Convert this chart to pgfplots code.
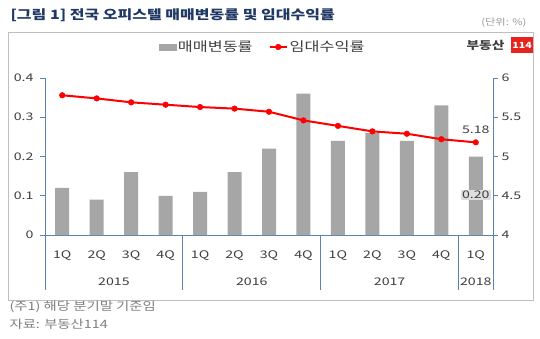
\documentclass[border=0pt]{standalone}
\usepackage{pgfplots}
\pgfplotsset{compat=1.18}
\usepackage{fontspec}
\setmainfont[FakeStretch=1.25]{Noto Sans CJK KR}
\newfontfamily\numfont[FakeStretch=1.35]{Noto Sans CJK KR}
\definecolor{axcol}{RGB}{91,130,180}
\definecolor{barcol}{RGB}{166,166,166}
\definecolor{txt}{RGB}{64,64,64}
\definecolor{titlecol}{RGB}{31,56,100}
\definecolor{framecol}{RGB}{191,191,191}
\definecolor{notecol}{RGB}{128,128,128}
\definecolor{logored}{RGB}{230,36,30}
\definecolor{lblfill}{RGB}{222,222,222}
\begin{document}
\begin{tikzpicture}
\useasboundingbox (0pt,0pt) rectangle (540pt,338pt);
\fill[white] (0pt,0pt) rectangle (540pt,338pt);
\draw[framecol, line width=1pt] (8pt,305pt) rectangle (533pt,38pt);
\node[anchor=west, text=titlecol, font=\bfseries\fontsize{12.8}{15}\selectfont] at (7pt,323pt) {[그림 1] 전국 오피스텔 매매변동률 및 임대수익률};
\node[anchor=east, text=notecol!80, font=\fontsize{9}{11}\selectfont] at (530pt,315pt) {(단위: \%)};
\node[anchor=west, text=notecol, font=\fontsize{11.5}{13}\selectfont] at (6pt,31pt) {(주1) 해당 분기말 기준임};
\node[anchor=west, text=notecol, font=\fontsize{11.5}{13}\selectfont] at (6pt,14pt) {자료: 부동산114};
\node[anchor=east, text=txt, font=\bfseries\fontsize{11}{12}\selectfont] at (508pt,293pt) {부동산};
\node[anchor=west, fill=logored, text=white, font=\bfseries\fontsize{8.5}{10}\selectfont, inner sep=1.2pt, minimum height=16pt] at (511pt,293pt) {114};

\begin{axis}[
  at={(45pt,103pt)}, anchor=south west, scale only axis,
  width=448pt, height=157pt,
  xmin=-0.5, xmax=12.5, ymin=0, ymax=0.4,
  axis x line*=bottom, axis y line*=left,
  axis line style={axcol, line width=0.8pt},
  ytick={0,0.1,0.2,0.3,0.4}, yticklabels={0,0.1,0.2,0.3,0.4},
  xtick={0,...,12}, xticklabels={1Q,2Q,3Q,4Q,1Q,2Q,3Q,4Q,1Q,2Q,3Q,4Q,1Q},
  x tick style={draw=none}, y tick style={axcol, line width=0.8pt},
  tick align=outside, major tick length=5pt,
  ticklabel style={font=\numfont\fontsize{10.5}{12}\selectfont, text=txt},
  yticklabel style={xshift=-3pt},
  /pgf/number format/assume math mode=true,
  xticklabel style={anchor=center, yshift=-16pt},
  clip=false,
  legend style={at={(0.4855,1)}, anchor=center, yshift=31pt, draw=none, fill=none,
    font=\fontsize{13}{15}\selectfont, text=txt, legend columns=2,
    /tikz/every even column/.append style={column sep=14pt}},
]
\addplot[ybar, bar width=14pt, fill=barcol, draw=none, forget plot] coordinates {
(0,0.12) (1,0.09) (2,0.16) (3,0.10) (4,0.11) (5,0.16) (6,0.22) (7,0.36)
(8,0.24) (9,0.26) (10,0.24) (11,0.33) (12,0.20)};
\addlegendimage{legend image code/.code={\fill[barcol] (0pt,-3pt) rectangle (17pt,3pt);}}
\addlegendentry{매매변동률}
\addlegendimage{red, line width=2pt, mark=*, mark size=2.8pt, mark options={solid, line width=0.5pt, fill=red}}
\addlegendentry{임대수익률}
\draw[axcol, line width=0.8pt] (axis cs:-0.5,0) -- ++(0pt,-55pt);
\draw[axcol, line width=0.8pt] (axis cs:3.5,0) -- ++(0pt,-55pt);
\draw[axcol, line width=0.8pt] (axis cs:7.5,0) -- ++(0pt,-55pt);
\draw[axcol, line width=0.8pt] (axis cs:11.5,0) -- ++(0pt,-55pt);
\draw[axcol, line width=0.8pt] (axis cs:12.5,0) -- ++(0pt,-55pt);
\node[yshift=-47pt, text=txt, font=\numfont\fontsize{10.5}{12}\selectfont] at (axis cs:1.5,0) {2015};
\node[yshift=-47pt, text=txt, font=\numfont\fontsize{10.5}{12}\selectfont] at (axis cs:5.5,0) {2016};
\node[yshift=-47pt, text=txt, font=\numfont\fontsize{10.5}{12}\selectfont] at (axis cs:9.5,0) {2017};
\node[yshift=-47pt, text=txt, font=\numfont\fontsize{10.5}{12}\selectfont] at (axis cs:12,0) {2018};
\node[fill=lblfill, inner sep=1pt, text=txt, font=\numfont\fontsize{10.5}{12}\selectfont] at (axis cs:12,0.102) {0.20};
\end{axis}

\begin{axis}[
  at={(45pt,103pt)}, anchor=south west, scale only axis,
  width=448pt, height=157pt,
  xmin=-0.5, xmax=12.5, ymin=4, ymax=6,
  hide x axis, axis y line*=right,
  axis line style={axcol, line width=0.8pt},
  ytick={4,4.5,5,5.5,6}, yticklabels={4,4.5,5,5.5,6},
  y tick style={axcol, line width=0.8pt},
  tick align=outside, major tick length=5pt,
  ticklabel style={font=\numfont\fontsize{10.5}{12}\selectfont, text=txt},
  /pgf/number format/assume math mode=true,
  clip=false,
]
\addplot[red, line width=2pt, mark=*, mark size=2.8pt, mark options={solid, line width=0.5pt, fill=red}] coordinates {
(0,5.78) (1,5.74) (2,5.69) (3,5.66) (4,5.63) (5,5.61) (6,5.57) (7,5.46)
(8,5.39) (9,5.32) (10,5.29) (11,5.22) (12,5.18)};
\node[yshift=13pt, text=txt, font=\numfont\fontsize{10.5}{12}\selectfont] at (axis cs:12,5.18) {5.18};
\end{axis}
\end{tikzpicture}
\end{document}
